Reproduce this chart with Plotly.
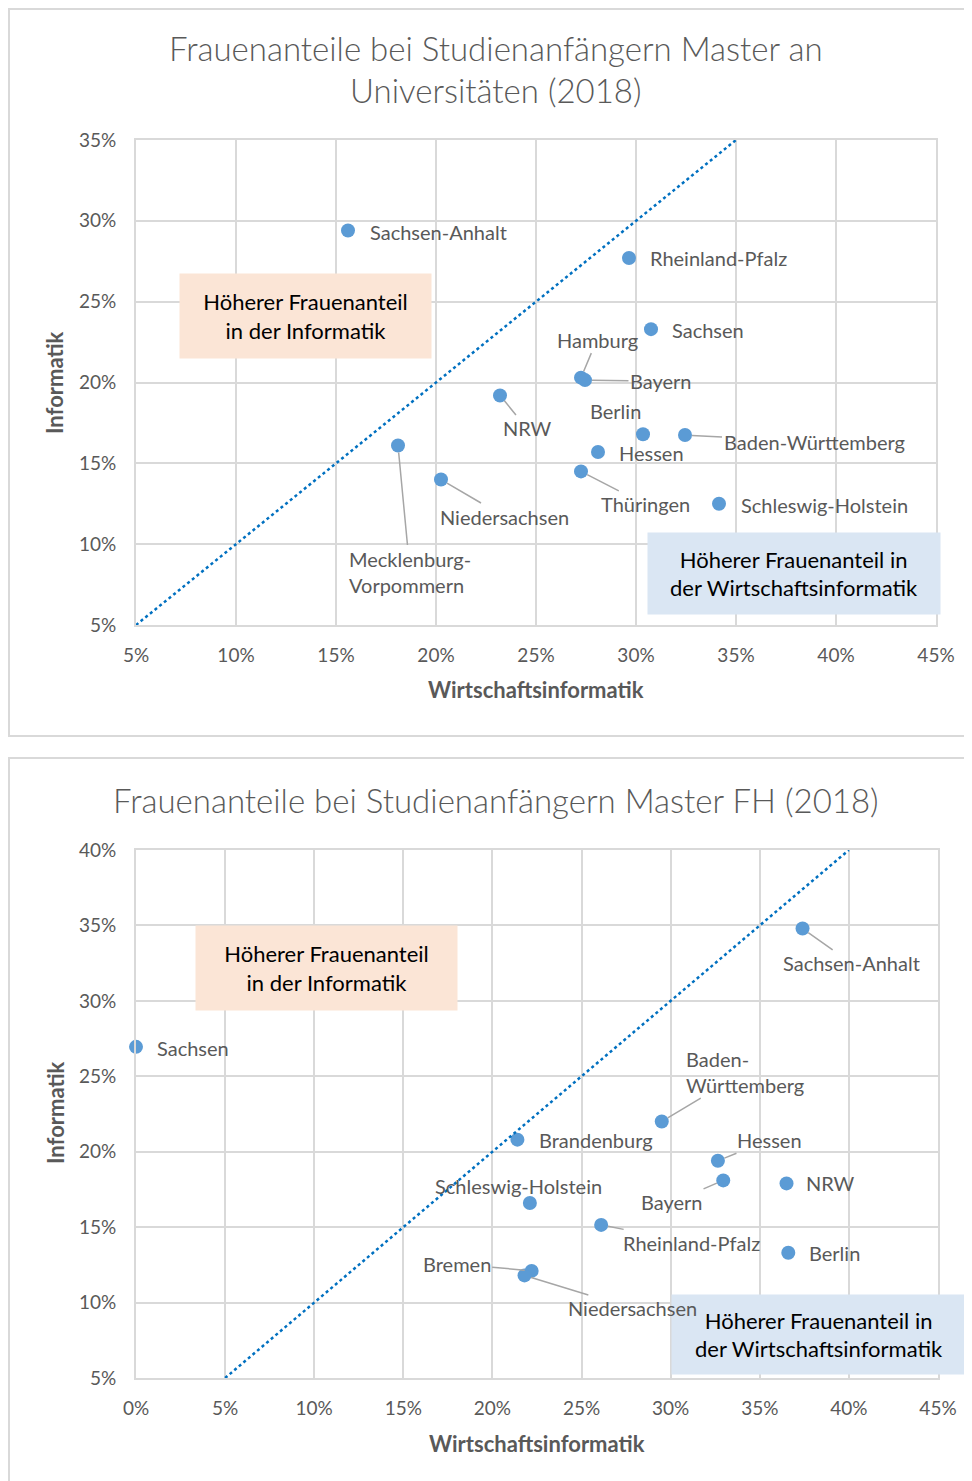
import plotly.graph_objects as go

# --- Daten: Master an Universitäten (2018), Angaben in %
uni_laender = ["Sachsen-Anhalt", "Rheinland-Pfalz", "Sachsen", "Hamburg", "Bayern", "NRW",
               "Berlin", "Baden-Württemberg", "Hessen", "Thüringen", "Schleswig-Holstein",
               "Mecklenburg-Vorpommern", "Niedersachsen"]
uni_wi = [15.6, 29.65, 30.75, 27.25, 27.45, 23.2, 30.35, 32.45, 28.1, 27.25, 34.15, 18.1, 20.25]
uni_inf = [29.4, 27.7, 23.3, 20.3, 20.15, 19.2, 16.8, 16.75, 15.7, 14.5, 12.5, 16.1, 14.0]

# --- Daten: Master FH (2018), Angaben in %
fh_laender = ["Sachsen", "Sachsen-Anhalt", "Baden-Württemberg", "Brandenburg", "Hessen", "Bayern",
              "NRW", "Schleswig-Holstein", "Rheinland-Pfalz", "Berlin", "Bremen", "Niedersachsen"]
fh_wi = [0.0, 37.4, 29.5, 21.4, 32.65, 32.95, 36.5, 22.1, 26.1, 36.6, 22.2, 21.8]
fh_inf = [26.95, 34.8, 22.0, 20.8, 19.4, 18.1, 17.9, 16.6, 15.15, 13.3, 12.1, 11.8]

# Beschriftungen: Versatz in px (dx, dy nach unten), Führungslinie ja/nein
uni_label_style = {
    "Sachsen-Anhalt": (90, 1, False),
    "Rheinland-Pfalz": (89, 0, False),
    "Sachsen": (57, 1, False),
    "Hamburg": (16, -38, True),
    "Bayern": (76, 1, True),
    "NRW": (27, 33, True),
    "Berlin": (-28, -23, False),
    "Baden-Württemberg": (129, 7, True),
    "Hessen": (53, 1, False),
    "Thüringen": (64, 33, True),
    "Schleswig-Holstein": (105, 1, False),
    "Mecklenburg-Vorpommern": (12, 126, True),
    "Niedersachsen": (63, 37, True),
}
fh_label_style = {
    "Sachsen": (57, 1, False),
    "Sachsen-Anhalt": (49, 35, True),
    "Baden-Württemberg": (83, -50, True),
    "Brandenburg": (79, 0, False),
    "Hessen": (52, -21, True),
    "Bayern": (-51, 22, True),
    "NRW": (44, 0, False),
    "Schleswig-Holstein": (-11, -17, False),
    "Rheinland-Pfalz": (90, 18, True),
    "Berlin": (46, 0, False),
    "Bremen": (-75, -7, True),
    "Niedersachsen": (108, 33, True),
}
uni_label_text = {"Mecklenburg-Vorpommern": "Mecklenburg-<br>Vorpommern"}
fh_label_text = {"Baden-Württemberg": "Baden-<br>Württemberg"}

FONT = "Lato"
GREY = "#595959"
POINT_COLOR = "#5B9BD5"
LINE_COLOR = "#0070C0"
GRID = "#d9d9d9"

# Seite hat 8px Rand -> Figur etwas kleiner, Pixelangaben in Seitenkoordinaten
OFF = 8
W, H = 964, 1473


def fx(px):
    return (px - OFF) / W


def fy(py):
    return 1 - (py - OFF) / H


fig = go.Figure()

# Punkte
fig.add_trace(go.Scatter(x=uni_wi, y=uni_inf, mode="markers", xaxis="x", yaxis="y",
                         marker=dict(size=14, color=POINT_COLOR), cliponaxis=False,
                         text=uni_laender, hoverinfo="text"))
fig.add_trace(go.Scatter(x=fh_wi, y=fh_inf, mode="markers", xaxis="x2", yaxis="y2",
                         marker=dict(size=14, color=POINT_COLOR), cliponaxis=False,
                         text=fh_laender, hoverinfo="text"))

# Diagonale (gleicher Frauenanteil)
fig.add_trace(go.Scatter(x=[5, 35], y=[5, 35], mode="lines", xaxis="x", yaxis="y",
                         line=dict(color=LINE_COLOR, width=2.5, dash="dot"), hoverinfo="skip"))
fig.add_trace(go.Scatter(x=[5, 40], y=[5, 40], mode="lines", xaxis="x2", yaxis="y2",
                         line=dict(color=LINE_COLOR, width=2.5, dash="dot"), hoverinfo="skip"))


def axis(rng, domain, anchor, standoff):
    return dict(
        range=rng, domain=domain, anchor=anchor, dtick=5, ticksuffix="%",
        showgrid=True, gridcolor=GRID, gridwidth=2,
        showline=True, linecolor=GRID, linewidth=2, mirror=True,
        zeroline=False, ticks="", ticklabelstandoff=standoff,
        tickfont=dict(family=FONT, size=19, color=GREY),
        automargin=False, fixedrange=True,
    )


fig.update_layout(
    width=W, height=H,
    margin=dict(l=0, r=0, t=0, b=0),
    paper_bgcolor="white", plot_bgcolor="white",
    showlegend=False,
    xaxis=axis([5, 45], [fx(136), fx(936)], "y", 12),
    yaxis=axis([5, 35], [fy(625), fy(140)], "x", 14),
    xaxis2=axis([0, 45], [fx(136), fx(938)], "y2", 12),
    yaxis2=axis([5, 40], [fy(1378), fy(850)], "x2", 14),
)

annotations = []


def box(x, y, xref, yref, text, color, w, h):
    annotations.append(dict(x=x, y=y, xref=xref, yref=yref, text=text, showarrow=False,
                            xanchor="center", yanchor="middle",
                            bgcolor=color, width=w, height=h, borderpad=0,
                            font=dict(family=FONT, size=22, color="black")))


box(13.45, 24.1, "x", "y", "Höherer Frauenanteil<br>in der Informatik", "#fbe5d6", 251, 84)
box(37.9, 8.19, "x", "y", "Höherer Frauenanteil in<br>der Wirtschaftsinformatik", "#dae6f3", 292, 81)
box(10.69, 32.18, "x2", "y2", "Höherer Frauenanteil<br>in der Informatik", "#fbe5d6", 261, 84)
box(38.33, 7.89, "x2", "y2", "Höherer Frauenanteil in<br>der Wirtschaftsinformatik", "#dae6f3", 294, 79)


def add_labels(names, xs, ys, styles, texts, xref, yref):
    for name, x, y in zip(names, xs, ys):
        dx, dy, leader = styles[name]
        txt = texts.get(name, name)
        a = dict(x=x, y=y, xref=xref, yref=yref, text=txt,
                 font=dict(family=FONT, size=20, color=GREY), align="left")
        if leader:
            a.update(showarrow=True, ax=dx, ay=dy, arrowhead=0, arrowwidth=1.5,
                     arrowcolor="#a6a6a6", standoff=7)
        else:
            a.update(showarrow=False, xshift=dx, yshift=-dy,
                     xanchor="center", yanchor="middle")
        annotations.append(a)


add_labels(uni_laender, uni_wi, uni_inf, uni_label_style, uni_label_text, "x", "y")
add_labels(fh_laender, fh_wi, fh_inf, fh_label_style, fh_label_text, "x2", "y2")


def paper_text(px, py, text, size, bold=False, angle=0, weight=None):
    f = dict(family=FONT, size=size, color=GREY)
    if weight:
        f["weight"] = weight
    annotations.append(dict(x=fx(px), y=fy(py), xref="paper", yref="paper",
                            xanchor="center", yanchor="middle",
                            text=f"<b>{text}</b>" if bold else text, showarrow=False,
                            textangle=angle, font=f))


# Titel
paper_text(496, 48, "Frauenanteile bei Studienanfängern Master an", 33, weight=300)
paper_text(496, 90, "Universitäten (2018)", 33, weight=300)
paper_text(496, 800, "Frauenanteile bei Studienanfängern Master FH (2018)", 33, weight=300)

# Achsentitel
paper_text(55, 383, "Informatik", 22, bold=True, angle=-90)
paper_text(536, 690, "Wirtschaftsinformatik", 22, bold=True)
paper_text(55, 1113, "Informatik", 22, bold=True, angle=-90)
paper_text(537, 1443, "Wirtschaftsinformatik", 22, bold=True)

fig.update_layout(annotations=annotations)

# Rahmen der beiden Diagramme
for x0, y0, y1 in [(9, 9, 736), (9, 758, 1490)]:
    fig.add_shape(type="rect", xref="paper", yref="paper",
                  x0=fx(x0), x1=fx(970), y0=fy(y1), y1=fy(y0),
                  line=dict(color=GRID, width=2), fillcolor="rgba(0,0,0,0)")

fig.write_html("out.html")
